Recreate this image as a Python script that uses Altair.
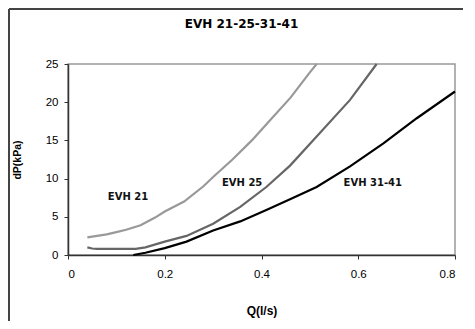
import altair as alt
import pandas as pd

# Series data
q_21 = [0.04, 0.06, 0.08, 0.10, 0.12, 0.15, 0.18, 0.20, 0.24, 0.28, 0.30, 0.34, 0.38, 0.42, 0.46, 0.50, 0.514]
dp_21 = [2.3, 2.5, 2.7, 3.0, 3.3, 3.9, 4.9, 5.7, 7.0, 9.0, 10.2, 12.5, 15.0, 17.8, 20.6, 23.9, 25.0]

q_25 = [0.04, 0.05, 0.06, 0.08, 0.10, 0.12, 0.14, 0.16, 0.20, 0.245, 0.30, 0.356, 0.41, 0.459, 0.514, 0.583, 0.638]
dp_25 = [1.0, 0.85, 0.8, 0.8, 0.8, 0.8, 0.8, 1.0, 1.75, 2.5, 4.1, 6.3, 8.9, 11.7, 15.5, 20.3, 25.0]

q_31 = [0.135, 0.16, 0.20, 0.245, 0.30, 0.356, 0.41, 0.459, 0.514, 0.583, 0.652, 0.721, 0.80]
dp_31 = [0.0, 0.3, 0.9, 1.75, 3.2, 4.4, 5.9, 7.3, 8.9, 11.6, 14.6, 17.9, 21.4]

series_names = ["EVH 21", "EVH 25", "EVH 31-41"]
series_colors = ["#999999", "#666666", "#000000"]

label_text = ["EVH 21", "EVH 25", "EVH 31-41"]
label_q = [0.124, 0.36, 0.63]
label_dp = [7.6, 9.4, 9.4]

x_ticks = [0, 0.2, 0.4, 0.6, 0.8]
y_ticks = [0, 5, 10, 15, 20, 25]

rows = []
for name, qs, dps in zip(series_names, [q_21, q_25, q_31], [dp_21, dp_25, dp_31]):
    for i, (q, d) in enumerate(zip(qs, dps)):
        rows.append({"series": name, "q": q, "dp": d, "order": i})
df = pd.DataFrame(rows)
labels = pd.DataFrame({"text": label_text, "q": label_q, "dp": label_dp})

W, H = 387, 191
PAD = {"left": 60, "top": 56, "right": 8, "bottom": 66}

x_scale = alt.Scale(domain=[0, 0.8], nice=False, zero=False)
y_scale = alt.Scale(domain=[0, 25], nice=False)

x_axis = alt.Axis(title="Q(l/s)", values=x_ticks, format="~g", titlePadding=26, labelOverlap=False)
y_axis = alt.Axis(title="dP(kPa)", values=y_ticks, titlePadding=23, labelOverlap=False)

lines = alt.Chart(df).mark_line(strokeWidth=2.2).encode(
    x=alt.X("q:Q", scale=x_scale, axis=x_axis),
    y=alt.Y("dp:Q", scale=y_scale, axis=y_axis),
    color=alt.Color("series:N", scale=alt.Scale(domain=series_names, range=series_colors), legend=None),
    order="order:Q",
)

text = alt.Chart(labels).mark_text(
    font="DejaVu Sans", fontSize=10, fontWeight="bold", color="#111111"
).encode(
    x=alt.X("q:Q", scale=x_scale, axis=x_axis),
    y=alt.Y("dp:Q", scale=y_scale, axis=y_axis),
    text="text:N",
)

frame_top = alt.Chart(pd.DataFrame({"a": [0]})).mark_rule(color="#444444", strokeWidth=2).encode(
    x=alt.value(-59), x2=alt.value(W + PAD["right"]), y=alt.value(-55)
)
frame_left = alt.Chart(pd.DataFrame({"a": [0]})).mark_rule(color="#444444", strokeWidth=2).encode(
    x=alt.value(-59), y=alt.value(-55), y2=alt.value(H + PAD["bottom"])
)

chart = alt.layer(lines, text, frame_top, frame_left).properties(
    width=W, height=H,
    title=alt.TitleParams("EVH 21-25-31-41", font="DejaVu Sans", fontSize=12, fontWeight="bold",
                          anchor="middle", frame="group", dx=-20, offset=-23, color="#000000"),
    autosize=alt.AutoSizeParams(type="none"),
    padding=PAD,
).configure_view(
    stroke="#999999", strokeWidth=1.5
).configure_axis(
    labelFont="Liberation Sans", labelFontSize=11.5, labelColor="#000000",
    titleFont="Liberation Sans", titleFontWeight="bold", titleColor="#000000",
    domainColor="#333333", domainWidth=1.5, tickColor="#333333", tickSize=4,
    grid=False, labelOverlap=False,
).configure_axisX(labelPadding=9, titleFontSize=12).configure_axisY(labelPadding=6, titleFontSize=10.5)

chart.save("out.html", embed_options={"renderer": "svg", "actions": False})
